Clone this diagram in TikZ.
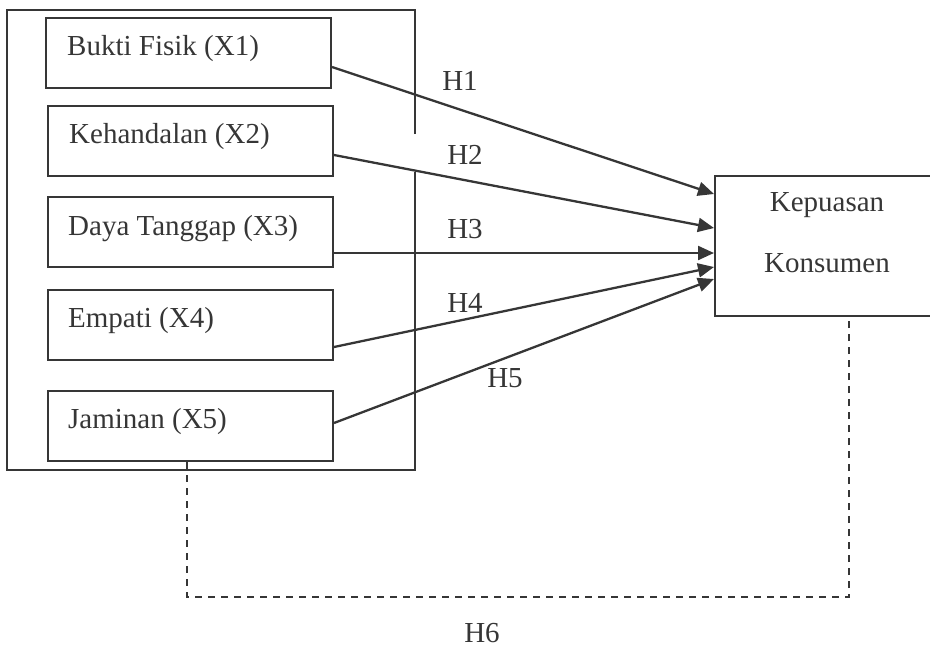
\documentclass[tikz,border=0pt]{standalone}
\usepackage{fontspec}
\setmainfont{Liberation Serif}
\usetikzlibrary{arrows.meta}
\definecolor{ink}{HTML}{363636}
\begin{document}
\begin{tikzpicture}[x=1pt,y=-1pt,
  frame/.style={draw=ink,line width=2pt},
  vbox/.style={draw=ink,line width=2pt,rectangle,inner sep=0pt,minimum width=285pt,minimum height=70pt,anchor=north west},
  vtext/.style={text=ink,anchor=base west,inner sep=0pt,font=\fontsize{29}{35}\selectfont},
  hlab/.style={text=ink,inner sep=0pt,font=\fontsize{29}{35}\selectfont},
  link/.style={draw=ink,line width=2.3pt,-{Triangle[length=16pt,width=14pt]}},
  dlink/.style={draw=ink,line width=1.8pt,dash pattern=on 7pt off 6pt}]
\useasboundingbox (0,0) rectangle (930,648);
% outer frame with gap on right edge
\draw[frame] (415,134) -- (415,10) -- (7,10) -- (7,470) -- (415,470) -- (415,172);
% variable boxes
\node[vbox] (b1) at (45,17) {};
\node[vbox] (b2) at (47,105) {};
\node[vbox] (b3) at (47,196) {};
\node[vbox] (b4) at (47,289) {};
\node[vbox] (b5) at (47,390) {};
\node[vtext] (t1) at (67,55) {Bukti Fisik (X1)};
\node[vtext] (t2) at (69,143) {Kehandalan (X2)};
\node[vtext] (t3) at (68,235) {Daya Tanggap (X3)};
\node[vtext] (t4) at (68,327) {Empati (X4)};
\node[vtext] (t5) at (68,428) {Jaminan (X5)};
% dependent box (cut at right edge)
\node[draw=ink,line width=2pt,rectangle,inner sep=0pt,minimum width=230pt,minimum height=140pt,anchor=north west] (k) at (714,175) {};
\node[hlab] (k1) at (827,205) {Kepuasan};
\node[hlab] (k2) at (827,263) {Konsumen};
% arrows
\coordinate (e1) at (714,194);
\coordinate (e2) at (714,228);
\coordinate (e3) at (714,253);
\coordinate (e4) at (714,267);
\coordinate (e5) at (714,279);
\draw[link] (b1.east |- 0,67) -- (e1);
\draw[link] (b2.east |- 0,155) -- (e2);
\draw[link] (b3.east |- 0,253) -- (e3);
\draw[link] (b4.east |- 0,347) -- (e4);
\draw[link] (b5.east |- 0,423) -- (e5);
% labels
\node[hlab] (h1) at (460,81) {H1};
\node[hlab] (h2) at (465,155) {H2};
\node[hlab] (h3) at (465,229) {H3};
\node[hlab] (h4) at (465,303) {H4};
\node[hlab] (h5) at (505,378) {H5};
\node[hlab] (h6) at (482,633) {H6};
% dashed H6 link
\coordinate (c1) at (187,597);
\coordinate (c2) at (849,597);
\draw[dlink] (b5.south -| 187,0) -- (c1) -- (c2) -- (k.south -| 849,0);
\end{tikzpicture}
\end{document}
